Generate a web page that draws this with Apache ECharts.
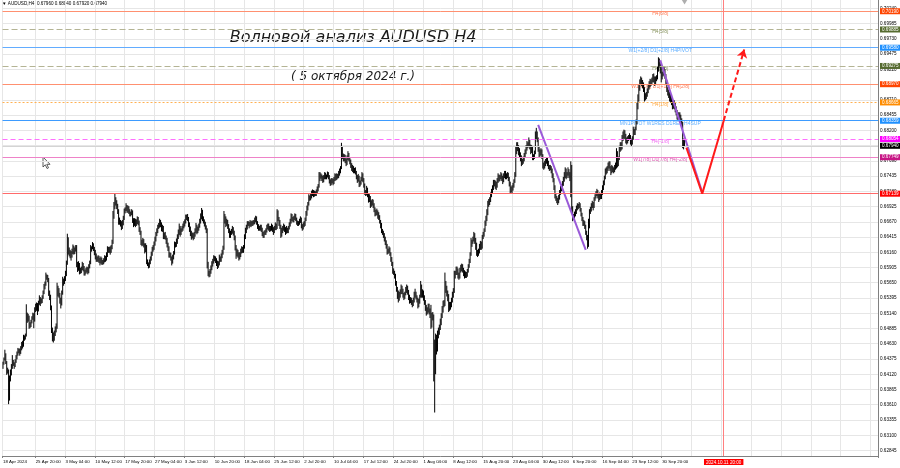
<!DOCTYPE html>
<html><head><meta charset="utf-8">
<script src="https://cdn.jsdelivr.net/npm/echarts@6/dist/echarts.min.js"></script>
<style>html,body{margin:0;padding:0;background:#fff}#c{width:900px;height:468px}</style>
</head><body><div id="c"></div>
<script>
// ---------- DATA (prices in pips above 0.6000, e.g. 424 = 0.6424) ----------
const symbolName = 'AUDUSD,H4';
const firstBarTime = '2024-04-18T00:00:00Z';
const firstOpen = 424;
const closes = [
430,437,445,432,420,418, 372,405,414,425,433,430, 426,433,440,446,450,452, 448,455,462,460,470,474,
476,512,505,508,493,495, 499,505,510,502,518,522, 528,519,530,538,532,536, 540,548,558,562,576,574,
571,548,542,524,487,478, 472,479,486,491,548,553, 545,536,530,548,566,568, 572,580,598,639,620,614,
615,610,618,624,616,621, 626,596,590,596,586,584, 589,595,591,580,583,586, 588,583,592,598,620,624,
628,622,616,611,603,605, 608,604,600,605,598,600, 603,607,605,612,622,620, 622,618,625,633,676,690,
705,700,693,685,670,667, 664,657,665,673,684,688, 692,686,690,684,679,681, 684,670,664,668,662,667,
672,666,654,648,634,630, 636,628,620,626,601,596, 592,600,605,613,620,624, 630,638,646,652,657,660,
666,663,655,658,642,645, 641,636,628,622,610,612, 606,600,608,614,628,630, 635,642,648,655,648,652,
656,660,664,667,674,676, 673,662,655,648,641,645, 640,646,652,660,650,655, 660,668,675,684,672,667,
663,658,653,596,582,578, 584,590,596,600,607,605, 603,598,592,597,604,606, 610,616,622,668,672,664,
668,660,652,646,648,651, 655,649,640,625,612,618, 614,608,612,618,623,620, 624,640,652,658,666,665,
662,666,663,666,664,667, 670,674,666,660,655,656, 660,654,647,642,648,650, 652,658,662,657,654,656,
660,655,650,656,662,657, 684,672,666,660,645,653, 656,660,655,650,655,652, 657,662,668,676,672,670,
674,678,672,666,662,665, 668,672,660,656,661,664, 670,680,690,696,708,707, 710,715,718,712,716,714,
718,722,726,740,746,744, 740,736,741,746,742,743, 748,742,735,730,734,737, 733,738,744,740,745,743,
748,752,756,788,778,773, 776,770,764,772,780,771, 768,762,756,758,751,754, 750,742,736,742,729,732,
738,745,738,728,716,714, 720,712,704,708,694,699, 702,695,688,682,680,685, 680,675,668,662,652,649,
645,640,632,628,616,618, 622,614,606,598,586,583, 578,565,556,545,540,545, 550,556,552,545,540,546,
552,558,550,542,534,537, 533,528,535,544,548,541, 536,526,533,540,560,544, 548,540,532,524,516,520,
526,518,512,500,508,512, 450,420,470,455,478,482, 490,498,510,520,528,531, 562,556,548,540,520,528,
526,534,545,550,578,582, 588,584,578,574,585,588, 592,586,582,578,580,577, 584,592,600,612,630,633,
638,645,636,626,612,615, 618,625,630,626,640,647, 652,664,672,682,695,701, 704,712,718,724,730,734,
730,726,735,742,738,742, 746,740,735,744,750,741, 744,748,740,730,722,721, 724,728,735,745,784,797,
790,785,780,774,765,768, 772,778,784,790,798,795, 800,793,786,790,776,774, 782,808,815,805,788,778,
782,786,778,762,758,765, 768,772,766,760,755,758, 752,745,738,725,712,708, 703,700,708,716,722,724,
730,738,746,752,742,746, 752,745,740,760,690,671, 675,680,684,690,692,694, 696,688,680,672,663,665,
660,650,642,628,660,684, 688,694,698,692,704,710, 714,718,712,705,712,709, 716,724,732,740,750,753,
756,762,766,758,750,759, 755,752,758,762,782,763, 772,788,796,792,806,812, 816,810,804,800,805,808,
810,802,798,806,820,817, 822,832,858,872,890,901, 905,900,895,888,872,877, 880,886,892,898,902,898,
904,910,906,900,906,908, 922,935,930,922,908,914, 918,920,912,902,890,886, 880,874,878,870,860,864,
862,856,850,845,842,846, 842,836,830,800,796,794
];
const highs = [
433,440,453,447,434,423, 420,410,420,429,444,436, 432,437,444,450,456,455, 455,459,466,468,478,477,
480,529,515,513,510,499, 503,509,515,514,524,530, 532,531,535,544,541,539, 544,552,563,567,582,579,
578,573,552,545,527,490, 482,485,492,497,565,560, 556,548,540,552,575,572, 576,585,602,647,641,624,
620,618,622,629,627,624, 628,628,600,601,598,590, 592,600,598,593,587,590, 592,591,596,602,628,626,
633,631,625,620,614,609, 611,610,607,609,607,603, 606,611,610,616,626,625, 625,626,628,637,685,700,
714,708,703,697,688,674, 670,668,670,677,689,691, 698,695,694,693,688,684, 688,686,673,673,672,671,
676,675,669,658,652,637, 640,638,631,631,628,604, 599,604,609,617,625,628, 634,642,650,656,662,665,
672,670,666,662,660,649, 650,644,640,632,626,616, 615,609,612,618,634,633, 639,646,654,664,660,656,
660,664,668,671,679,679, 680,675,666,659,652,649, 648,650,656,665,662,659, 664,672,681,690,687,676,
671,667,661,656,600,585, 588,594,601,605,611,610, 609,606,602,601,612,609, 614,620,627,685,680,676,
672,670,663,656,652,655, 660,658,652,644,628,622, 620,616,616,622,626,625, 628,646,657,662,668,668,
667,670,668,669,669,670, 674,677,676,668,663,660, 662,662,657,650,652,653, 656,662,664,664,660,660,
664,662,658,660,666,664, 688,686,675,670,662,657, 660,664,662,658,660,657, 660,666,672,681,680,675,
677,681,680,674,669,668, 672,676,674,663,666,668, 674,685,694,700,713,711, 714,719,721,720,719,718,
721,726,730,750,750,748, 746,744,745,750,749,746, 751,750,745,738,740,740, 739,742,748,747,748,747,
752,756,760,799,792,781, 780,779,773,778,785,782, 775,771,765,762,760,757, 758,752,745,747,744,736,
742,750,748,740,731,720, 727,724,715,713,710,703, 705,704,698,691,687,689, 686,683,678,670,665,655,
652,648,642,636,630,622, 626,624,616,608,600,589, 585,580,568,558,552,550, 554,562,560,555,548,550,
558,562,560,553,545,541, 540,536,540,550,555,550, 544,540,538,545,568,562, 554,552,544,536,528,524,
530,530,522,528,515,516, 512,470,480,478,485,490, 495,505,514,526,535,536, 582,568,560,552,546,533,
533,540,550,556,585,585, 592,592,589,582,590,595, 597,596,590,586,584,583, 588,596,605,616,640,637,
642,650,648,640,632,620, 622,630,635,634,645,650, 656,669,677,688,702,705, 708,716,722,728,737,737,
736,734,740,748,746,745, 750,748,744,748,752,752, 748,750,749,742,734,726, 728,732,738,750,792,800,
800,795,790,783,778,772, 776,782,788,795,802,800, 808,804,796,795,792,780, 786,818,824,818,808,792,
788,790,788,780,766,769, 772,775,774,769,762,762, 760,756,748,740,728,715, 710,707,712,720,727,730,
735,742,750,758,756,750, 758,755,750,768,762,693, 680,684,688,694,698,697, 700,698,690,682,675,670,
668,662,652,645,672,688, 692,698,702,700,708,713, 718,722,720,715,716,714, 720,728,736,744,756,758,
760,766,768,768,760,762, 760,758,762,766,790,785, 776,794,800,800,812,818, 821,820,814,808,810,812,
815,812,806,810,826,822, 826,838,866,880,896,905, 910,908,904,900,892,882, 884,890,896,902,906,905,
908,914,915,910,910,912, 926,942,940,932,926,918, 924,926,922,914,904,892, 888,884,882,880,874,870,
870,866,860,854,850,850, 850,846,840,834,806,804
];
const lows = [
421,428,435,429,411,413, 362,368,400,410,421,426, 421,424,431,437,443,447, 443,446,452,455,458,468,
470,475,498,500,488,489, 491,497,503,489,500,516, 518,511,517,528,526,530, 531,538,546,554,560,570,
566,543,536,519,481,467, 465,468,476,482,488,542, 540,530,522,527,545,560, 563,568,576,595,612,609,
606,602,607,613,612,613, 617,591,583,585,579,580, 581,586,584,577,577,580, 582,579,581,589,596,617,
621,618,611,604,600,600, 600,598,594,597,595,595, 596,599,600,602,608,615, 615,612,615,621,630,672,
688,694,688,680,662,662, 659,653,655,661,670,681, 685,682,682,680,676,676, 678,665,658,660,658,660,
663,661,650,645,628,626, 627,624,614,616,596,593, 589,590,596,602,610,617, 620,627,634,643,648,655,
657,658,651,650,638,638, 637,630,624,618,607,607, 602,594,597,604,612,624, 625,630,638,645,642,645,
650,652,656,659,664,670, 668,658,650,643,637,639, 636,638,642,648,646,648, 652,657,664,671,668,664,
659,654,648,589,576,574, 575,580,586,592,597,601, 598,593,588,590,594,600, 600,606,612,620,664,658,
660,655,648,640,640,645, 647,644,636,619,605,609, 607,602,604,608,614,615, 615,622,638,648,654,660,
656,659,658,660,660,662, 663,666,662,655,652,652, 652,650,643,640,640,645, 645,649,654,652,650,651,
652,650,645,648,653,653, 655,668,660,655,640,642, 648,652,650,645,647,648, 648,654,659,664,668,666,
666,670,668,662,660,660, 662,665,656,652,654,658, 660,668,677,686,694,702, 703,706,710,708,709,710,
710,714,718,724,735,739, 735,732,733,738,738,738, 741,738,731,727,728,731, 728,730,735,736,737,739,
740,744,748,755,772,768, 768,765,760,762,770,768, 763,757,752,750,748,748, 746,738,732,734,725,726,
729,735,733,724,712,710, 711,708,699,700,690,692, 694,690,683,676,677,678, 672,670,664,656,648,645,
640,634,628,622,612,613, 615,610,600,593,580,578, 572,560,550,538,532,535, 540,546,546,540,536,538,
544,548,545,536,530,531, 528,524,526,532,540,537, 532,522,524,530,540,540, 540,535,528,518,510,512,
515,512,506,488,490,502, 400,348,412,445,450,472, 478,486,494,506,515,524, 526,548,542,534,516,518,
520,524,532,540,548,572, 578,578,572,570,572,582, 584,582,576,572,573,573, 575,582,590,598,610,625,
630,634,630,620,610,608, 610,614,620,620,622,638, 642,650,660,668,678,692, 695,700,708,714,720,726,
722,720,724,732,734,735, 738,735,730,733,740,738, 738,740,735,726,715,716, 715,719,724,732,742,780,
785,778,774,768,760,762, 764,768,774,780,786,790, 792,788,780,782,770,770, 772,780,805,800,784,774,
776,778,772,756,754,756, 760,764,760,755,752,753, 748,740,733,720,706,702, 698,695,698,704,712,718,
720,727,734,740,738,740, 744,740,735,708,685,668, 670,672,676,680,686,688, 690,684,676,668,660,660,
655,645,636,622,625,656, 680,684,690,686,690,702, 706,710,706,700,703,705, 705,712,720,728,738,746,
748,752,756,752,745,748, 750,748,750,754,756,758, 760,770,784,786,788,802, 806,805,798,796,798,802,
804,796,793,796,804,812, 812,820,830,855,868,886, 896,894,890,884,868,870, 872,876,882,888,892,894,
896,900,900,894,896,902, 905,918,925,915,900,905, 910,912,906,896,884,878, 874,868,866,862,855,856,
855,850,845,838,836,838, 836,830,824,790,788,792
];
const futureSlots = 207;
const yTicks = [0.62845,0.63100,0.63355,0.63610,0.63865,0.64120,0.64375,0.64630,0.64885,0.65140,
0.65395,0.65650,0.65905,0.66160,0.66415,0.66670,0.66925,0.67180,0.67435,0.67690,0.67945,0.68200,
0.68455,0.68710,0.68965,0.69220,0.69475,0.69730,0.69985,0.70240];
const levelValues = [0.70190,0.69885,0.69580,0.69275,0.68970,0.68665,0.68359,0.68054,0.67749,0.67139];
const levelNames = ['H4[6/8]','H4[5/8]','W1[+2/8] D1[+2/8] H4PIVOT','H4[3/8]','W1[+1/8] D1[+1/8] H4[2/8]',
  'H4[1/8]','MN1PIVOT W1RES D1RES H4SUP','H4[-1/8]','W1[7/8] D1[7/8] H4[-2/8]',''];
const levelLabelTime = '30 Sep 12:00';
const trendPurpleA = [['29 Aug 16:00',0.6829],['11 Sep 04:00',0.6620]];
const trendPurpleB = [['30 Sep 12:00',0.6937],['8 Oct 00:00',0.6716]];
const trendRed = [['5 Oct 04:00',0.6791],['8 Oct 00:00',0.6714],['11 Oct 20:00',0.68359]];
const forecastArrow = [['11 Oct 20:00',0.68359],['15 Oct 12:00',0.6955]];
const forecastTime = '11 Oct 20:00';
const forecastLabel = '2024.10.11 20:00';
const shiftMarkerTime = '4 Oct 20:00';
const titleText = 'Волновой анализ AUDUSD H4';
const subtitleText = '( 5 октября 2024 г.)';

// ---------- BUILD ----------
const MONTHS=['Jan','Feb','Mar','Apr','May','Jun','Jul','Aug','Sep','Oct','Nov','Dec'];
const pad=n=>String(n).padStart(2,'0');
const fmtCat=d=>d.getUTCDate()+' '+MONTHS[d.getUTCMonth()]+' '+pad(d.getUTCHours())+':'+pad(d.getUTCMinutes());
const H4=4*3600e3;
const categories=[];
let t=Date.parse(firstBarTime);
const firstDate=new Date(t);
for(let i=0;i<closes.length;i++){
  categories.push(fmtCat(new Date(t)));
  if(i<closes.length-1){t+=H4; while([0,6].includes(new Date(t).getUTCDay())) t+=H4;}
}
for(let k=0;k<futureSlots;k++){t+=H4; categories.push(fmtCat(new Date(t)));}
const px=n=>+(0.6+n/10000).toFixed(5);
const candleData=closes.map((c,i)=>{const o=i?closes[i-1]:firstOpen;
  return [px(o),px(c),px(Math.min(lows[i],o,c)),px(Math.max(highs[i],o,c))];});
const last=candleData[candleData.length-1];
const lastPrice=last[1];

const firstLabelBar=35, labelStep=32;
const isGridBar=i=>i===0||(i>=firstLabelBar&&(i-firstLabelBar)%labelStep===0);
const isLabelBar=i=>isGridBar(i)&&i<closes.length;

const levelStyle=[
 {line:'#ff9070',type:'solid',box:'#ff4500',txt:'#ff5a2a'},
 {line:'#b4b494',type:[6,3],box:'#556b2f',txt:'#6b7a3a'},
 {line:'#62acff',type:'solid',box:'#1e90ff',txt:'#3399ff'},
 {line:'#b4b494',type:[6,3],box:'#556b2f',txt:'#6b7a3a'},
 {line:'#ff9070',type:'solid',box:'#ff4500',txt:'#ff5a2a'},
 {line:'#ffb050',type:[2,2],box:'#ff8c00',txt:'#ff9a20'},
 {line:'#3d9bff',type:'solid',box:'#1e90ff',txt:'#3399ff'},
 {line:'#ff70ff',type:[5,3],box:'#ff00ff',txt:'#ee44ee'},
 {line:'#ee82c8',type:'solid',box:'#c71585',txt:'#d0309a'},
 {line:'#ff6a6a',type:'solid',box:'#ff0000',txt:'#ff0000'}
];
const boxLabel=(bg)=>({show:true,position:'end',distance:2,color:'#fff',backgroundColor:bg,
  fontSize:4.6,fontFamily:'Liberation Sans',padding:[1,2,0,2],formatter:p=>(+p.value).toFixed(5)});
const levelMarks=levelValues.map((v,i)=>({yAxis:v,lineStyle:{color:levelStyle[i].line,type:levelStyle[i].type,width:1},
  label:boxLabel(levelStyle[i].box)}));
levelMarks.push({yAxis:lastPrice,lineStyle:{color:'#d4d4d4',type:'solid',width:1},label:boxLabel('#000')});

const levelLabelData=levelValues.map((v,i)=>({value:[levelLabelTime,v],name:levelNames[i],
  label:{color:levelStyle[i].txt}})).filter(d=>d.name);

const chart=echarts.init(document.getElementById('c'),null,{renderer:'canvas'});
const axisFont='Liberation Sans';
chart.setOption({
 animation:false,
 backgroundColor:'#ffffff',
 grid:{left:0,right:22,top:0,bottom:12},
 xAxis:{type:'category',data:categories,boundaryGap:true,
  axisLine:{lineStyle:{color:'#808080',width:1}},
  axisTick:{show:true,interval:(i)=>isLabelBar(i),length:2,lineStyle:{color:'#808080'}},
  axisLabel:{interval:(i)=>isLabelBar(i),align:'left',fontSize:4.4,fontFamily:axisFont,color:'#000',margin:4,
   formatter:(v,i)=>i===0?firstDate.getUTCDate()+' '+MONTHS[firstDate.getUTCMonth()]+' '+firstDate.getUTCFullYear():v},
  splitLine:{show:true,interval:(i)=>isGridBar(i),lineStyle:{color:'#e6e6e6',width:1}}},
 yAxis:{type:'value',position:'right',min:0.62753,max:0.70378,scale:true,
  axisLine:{show:true,lineStyle:{color:'#808080'}},
  axisTick:{show:false,customValues:yTicks},
  axisLabel:{customValues:yTicks,fontSize:4.6,fontFamily:axisFont,color:'#000',margin:2,formatter:v=>(+v).toFixed(5)},
  splitLine:{show:true,lineStyle:{color:'#e6e6e6',width:1}}},
 graphic:[
  {type:'text',x:2,y:1,style:{text:'▼ '+symbolName+'  '+[last[0],last[3],last[2],last[1]].map(v=>v.toFixed(5)).join(' '),
    font:'4.6px "Liberation Sans"',fill:'#000'}},
  {type:'text',x:353,y:38,style:{text:titleText,font:'italic 16px "DejaVu Sans"',fill:'#1a1a1a',align:'center',verticalAlign:'middle'}},
  {type:'text',x:353,y:77,style:{text:subtitleText,font:'italic 12px "DejaVu Sans"',fill:'#1a1a1a',align:'center',verticalAlign:'middle'}},
  {type:'polygon',x:43,y:157,shape:{points:[[0,0],[0,10],[2.3,7.8],[4,11.5],[5.5,10.8],[3.8,7.3],[7,7.3]]},
    style:{fill:'#fff',stroke:'#333',lineWidth:0.8}}
 ],
 series:[
  {type:'scatter',z:1,data:levelLabelData,symbolSize:0,silent:true,
   label:{show:true,position:'bottom',distance:0,fontSize:5,fontFamily:axisFont,formatter:p=>p.name}},
  {type:'candlestick',z:2,data:candleData,barWidth:1,silent:true,
   itemStyle:{color:'#000',color0:'#000',borderColor:'#000',borderColor0:'#000',borderWidth:1}},
  {type:'line',z:3,data:[],silent:true,
   markLine:{silent:true,precision:5,symbol:['none','none'],data:levelMarks}},
  {type:'line',z:3,data:[],silent:true,
   markLine:{silent:true,symbol:['none','none'],data:[{xAxis:forecastTime,lineStyle:{color:'#ff7f7f',type:'solid',width:1},
     label:{show:true,position:'start',distance:3,formatter:()=>forecastLabel,color:'#fff',backgroundColor:'#ff0000',
     fontSize:4.6,fontFamily:axisFont,padding:[1,2,0,2]}}]}},
  {type:'line',z:4,data:trendPurpleA,symbol:'none',silent:true,lineStyle:{color:'#9a5ad8',width:2}},
  {type:'line',z:4,data:trendPurpleB,symbol:'none',silent:true,lineStyle:{color:'#9a5ad8',width:2}},
  {type:'line',z:5,data:trendRed,symbol:'none',silent:true,lineStyle:{color:'#ff1a1a',width:2}},
  {type:'line',z:5,data:[],silent:true,
   markLine:{silent:true,precision:5,symbol:['none','arrow'],symbolSize:8,label:{show:false},
    lineStyle:{color:'#ff1a1a',type:[5,3],width:2},
    data:[[{coord:forecastArrow[0]},{coord:forecastArrow[1]}]]}},
  {type:'scatter',z:5,silent:true,data:[[shiftMarkerTime,0.70378]],symbol:'triangle',symbolRotate:180,
   symbolSize:[6,5],symbolOffset:[0,2],itemStyle:{color:'#9a9a9a'}}
 ]
});
</script></body></html>
